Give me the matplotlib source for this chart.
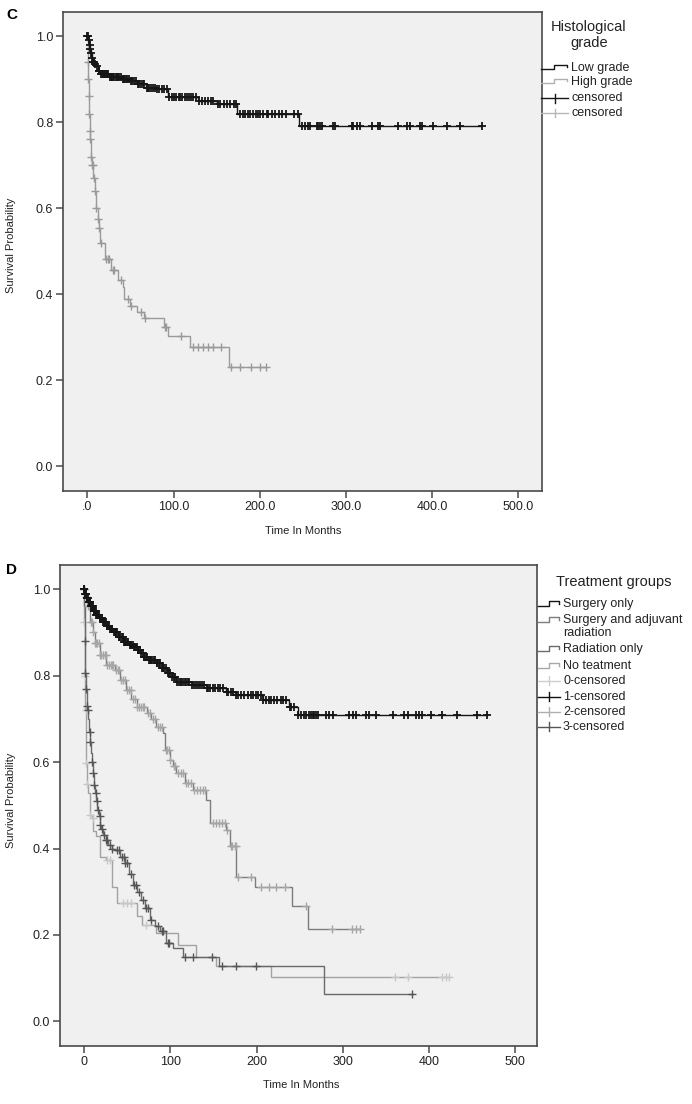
import numpy as np
import matplotlib
matplotlib.use('Agg')
import matplotlib.pyplot as plt
from matplotlib.lines import Line2D

plt.rcParams['font.family'] = ['Liberation Sans', 'DejaVu Sans']

W, H = 692, 1104

# ---------------- Panel C : Histological grade ----------------
grade_title = 'Histological\ngrade'
grade_names = ['Low grade', 'High grade']
grade_cens_names = ['censored', 'censored']

low_event_t = [1, 2, 3, 4, 5, 6, 8, 10, 12, 15, 25, 40, 50, 58, 68, 80, 93, 128, 150, 174, 245]
low_event_s = [0.99, 0.98, 0.97, 0.96, 0.95, 0.94, 0.935, 0.93, 0.92, 0.912, 0.905, 0.90, 0.895,
               0.888, 0.88, 0.876, 0.858, 0.85, 0.842, 0.82, 0.79]
low_cens_t = [0, 0.5, 1.5, 2.5, 3.5, 4.5, 5.5, 7, 7.5, 9, 11, 13, 14, 16, 17, 18, 19, 20, 22, 23, 24,
              26, 27, 28, 30, 31, 33, 34, 36, 37, 39, 41, 42, 43, 45, 46, 48, 51, 52, 54, 56, 59, 60,
              62, 64, 66, 69, 70, 72, 74, 76, 78, 81, 83, 86, 89, 92, 95, 98, 100, 103, 106, 108, 110,
              113, 116, 118, 120, 123, 126, 130, 133, 136, 140, 143, 146, 151, 154, 158, 162, 166, 170,
              172, 177, 180, 183, 186, 189, 192, 196, 198, 200, 204, 208, 210, 214, 218, 222, 226, 230,
              240, 244, 248.5, 252.3, 256.2, 258, 265.9, 267.8, 269.8, 271.7, 285.3, 287.2, 306.6,
              308.5, 312.4, 316.3, 329.9, 337.6, 339.5, 360.8, 370.6, 374.4, 386, 388, 401.5, 417,
              432.6, 457.8]

high_event_t = [0.3, 0.6, 1.0, 1.5, 2.0, 2.5, 3.0, 4.0, 5.0, 7.0, 9.0, 10.0, 12.0, 13.6, 15.0, 20.0,
                27.0, 35.0, 41.0, 43.0, 50.0, 58.0, 66.0, 89.0, 93.0, 119.0, 164.0]
high_event_s = [0.97, 0.94, 0.90, 0.86, 0.82, 0.78, 0.76, 0.72, 0.70, 0.67, 0.64, 0.60, 0.575, 0.555,
                0.52, 0.483, 0.456, 0.433, 0.417, 0.39, 0.374, 0.36, 0.345, 0.324, 0.302, 0.278, 0.231]
high_cens_t = [0.7, 1.1, 1.6, 2.1, 2.6, 3.1, 4.3, 5.1, 6.0, 7.5, 9.2, 10.5, 12.2, 14.0, 16.0, 22.0,
               24.0, 25.6, 30.0, 31.4, 39.0, 47.0, 50.8, 62.4, 66.3, 89.5, 91.5, 109.0, 122.5, 128.0,
               134.0, 140.0, 145.7, 155.4, 167.0, 176.7, 190.0, 200.0, 207.8]

c_xticks = [0, 100, 200, 300, 400, 500]
c_xticklabels = ['.0', '100.0', '200.0', '300.0', '400.0', '500.0']

# ---------------- Panel D : Treatment groups ----------------
treat_title = 'Treatment groups'
treat_names = ['Surgery only', 'Surgery and adjuvant\nradiation', 'Radiation only', 'No teatment']
treat_cens_names = ['0-censored', '1-censored', '2-censored', '3-censored']

so_event_t = [1, 3, 5, 8, 11, 14, 18, 22, 26, 30, 34, 40, 46, 52, 58, 62, 66, 69, 75, 84, 90, 96,
              102, 107, 125, 142, 165, 176, 207, 238, 248]
so_event_s = [0.99, 0.98, 0.97, 0.96, 0.95, 0.94, 0.933, 0.925, 0.915, 0.907, 0.90, 0.89, 0.878,
              0.872, 0.866, 0.86, 0.852, 0.844, 0.837, 0.829, 0.818, 0.806, 0.796, 0.786, 0.778,
              0.771, 0.763, 0.755, 0.744, 0.728, 0.709]
so_cens_t = [0, 0.5, 1.5, 2, 2.5, 3.5, 4, 4.5, 5.5, 6, 6.5, 7, 8.5, 9, 9.5, 10, 11.5, 12, 13, 13.5,
             14.5, 15, 16, 17, 18.5, 19, 20, 21, 22.5, 23, 24, 25, 26.5, 27, 28, 29, 30.5, 31, 32, 33,
             35, 36, 37, 38, 40.5, 41, 42, 44, 45, 46.5, 47, 48, 50, 51, 53, 54, 55, 57, 58.5, 59, 61,
             62.5, 63, 65, 66.5, 68, 69.5, 70, 72, 73, 75.5, 76, 78, 79, 81, 82, 84.5, 85, 87, 88,
             90.5, 92, 93, 95, 97, 99, 100, 102.5, 104, 106, 108, 110, 112, 113, 115, 117, 118, 120,
             122, 125.5, 127, 130, 132, 134, 137, 139, 142.5, 144, 146, 149, 152, 155, 158, 161,
             165.5, 167, 170, 173, 176.5, 179, 182, 186, 190, 193, 196, 199, 202, 205, 207.5, 211,
             214, 217, 220, 224, 228, 231, 234, 238.5, 240, 243, 248.5, 251.6, 255.5, 257.4, 261.3,
             263.2, 265.1, 267, 269, 270.9, 280.5, 284.4, 288.2, 307.5, 311.3, 315.2, 326.8, 330.6,
             338.4, 357.6, 371, 375, 384.6, 388.4, 392.3, 401.9, 415.4, 432.7, 455.8, 467.4]

sr_event_t = [1, 4, 7, 10, 12.7, 18.5, 26, 36, 41.6, 49, 55, 61, 72.5, 78, 84, 91.7, 93.6, 99.4,
              103, 107, 116.8, 126.4, 141.8, 145.7, 165, 168.8, 176.5, 197.7, 240.8, 260]
sr_event_s = [0.983, 0.96, 0.925, 0.90, 0.875, 0.848, 0.825, 0.813, 0.79, 0.767, 0.745, 0.728,
              0.713, 0.70, 0.682, 0.667, 0.628, 0.605, 0.59, 0.574, 0.551, 0.536, 0.513, 0.459,
              0.443, 0.405, 0.335, 0.312, 0.267, 0.214]
sr_cens_t = [2, 3, 5, 6, 8, 9, 11, 13, 14, 15, 17, 19, 20, 22, 24, 25, 27, 29, 31, 33, 34, 37, 39,
             40, 43, 45, 47, 50, 52, 54, 57, 59, 62, 64, 66, 68, 70, 74, 76, 80, 82, 86, 88, 90, 95,
             96, 98, 100, 104, 106, 109, 112, 115, 118, 121, 124, 128, 131, 135, 138, 140, 150, 153,
             156, 160, 163, 166, 170, 172, 175, 176, 178, 193, 204.6, 214, 222, 233, 257, 287.5,
             310.6, 315.3, 320]

ro_event_t = [0.3, 0.6, 0.9, 1.2, 2, 3, 4, 5, 6, 7, 8, 8.9, 10, 11.6, 12.7, 14, 15.4, 17, 18.5, 20,
              22.4, 25, 28, 32, 36, 42, 47, 52, 57, 62, 66, 70.5, 76, 82, 88, 95.6, 103, 115, 157, 278]
ro_event_s = [0.96, 0.92, 0.88, 0.807, 0.77, 0.73, 0.72, 0.70, 0.67, 0.646, 0.62, 0.601, 0.574,
              0.547, 0.528, 0.51, 0.49, 0.475, 0.455, 0.445, 0.432, 0.42, 0.409, 0.40, 0.397, 0.38,
              0.366, 0.34, 0.316, 0.30, 0.28, 0.262, 0.235, 0.22, 0.208, 0.181, 0.17, 0.15, 0.127,
              0.063]
ro_cens_t = [0.1, 1.0, 1.5, 2.5, 3.5, 4.5, 6.5, 7.5, 9.5, 10.5, 12, 13.5, 15, 16, 18, 19, 21, 23, 26,
             27, 30, 33, 38, 40, 44, 46, 48, 50, 55, 58, 60, 64, 68, 72, 74, 78, 86, 90, 92, 97, 99,
             117, 126.5, 148, 160, 176.5, 199.6, 380]

nt_event_t = [0.2, 0.4, 0.6, 0.8, 1.0, 1.2, 1.5, 2.0, 2.3, 3.0, 4.0, 5.0, 7.0, 9.0, 11.0, 14.0,
              18.5, 26.0, 32.0, 37.8, 61.0, 66.7, 84.0, 109.0, 130.0, 153.0, 217.0]
nt_event_s = [0.97, 0.925, 0.89, 0.852, 0.80, 0.76, 0.72, 0.66, 0.597, 0.57, 0.55, 0.528, 0.478,
              0.47, 0.44, 0.43, 0.38, 0.374, 0.312, 0.274, 0.243, 0.224, 0.204, 0.177, 0.15, 0.127,
              0.103]
nt_cens_t = [0.0, 0.5, 1.1, 1.8, 2.5, 4.0, 7.5, 10.8, 27.0, 30.0, 45.0, 50.0, 55.0, 72.4, 360.0,
             375.0, 415.4, 420.0, 423.0]

d_xticks = [0, 100, 200, 300, 400, 500]
d_xticklabels = ['0', '100', '200', '300', '400', '500']

yticks = [0.0, 0.2, 0.4, 0.6, 0.8, 1.0]
yticklabels = ['0.0', '0.2', '0.4', '0.6', '0.8', '1.0']

# ---------------- helpers ----------------
fig = plt.figure(figsize=(W / 100, H / 100), dpi=100)
fig.patch.set_facecolor('white')


def px_axes(x0, y0, x1, y1):
    return fig.add_axes([x0 / W, 1 - y1 / H, (x1 - x0) / W, (y1 - y0) / H])


def km_curve(ax, ev_t, ev_s, cens_t, line_color, mark_color, lw=1.0, mew=1.0, ms=5.6):
    cens_t = np.asarray(cens_t, float)
    end_t = max(cens_t.max(), ev_t[-1])
    t = np.concatenate([[0.0], ev_t, [end_t]])
    s = np.concatenate([[1.0], ev_s, [ev_s[-1]]])
    ax.step(t, s, where='post', color=line_color, lw=lw, solid_joinstyle='miter')
    idx = np.clip(np.searchsorted(t, cens_t, side='right') - 1, 0, len(s) - 1)
    ax.plot(cens_t, s[idx], ls='none', marker='+', ms=ms, mew=mew, color=mark_color)


def style_ax(ax, xlim, xticks, xlabels):
    ax.set_facecolor('#f0f0f0')
    for sp in ax.spines.values():
        sp.set_color('#4a4a4a')
        sp.set_linewidth(1.2)
    ax.set_xlim(*xlim)
    ax.set_ylim(-0.057, 1.056)
    ax.set_xticks(xticks)
    ax.set_xticklabels(xlabels)
    ax.set_yticks(yticks)
    ax.set_yticklabels(yticklabels)
    ax.tick_params(direction='out', length=5, width=1.1, color='#4a4a4a',
                   labelsize=9, labelcolor='#222222', pad=2)
    ax.tick_params(top=False, right=False)


def fline(xs, ys, **kw):
    fig.add_artist(Line2D([x / W for x in xs], [1 - y / H for y in ys],
                          transform=fig.transFigure, **kw))


def ftext(x, y, s, **kw):
    fig.text(x / W, 1 - y / H, s, **kw)


def step_glyph(x0, y, wid, color):
    a = x0 + wid * 0.5
    b = x0 + wid
    fline([x0, a, a, b, b], [y + 1.5, y + 1.5, y - 3, y - 3, y - 0.5], color=color, lw=1.0)


def cens_glyph(x0, y, wid, color):
    fline([x0, x0 + wid], [y, y], color=color, lw=1.0)
    fline([x0 + wid / 2, x0 + wid / 2], [y - 4.5, y + 4.5], color=color, lw=1.0)


# ---------------- Panel C ----------------
axc = px_axes(63, 12, 542, 491)
style_ax(axc, (-28.3, 527.5), c_xticks, c_xticklabels)
c_line_colors = ['#151515', '#9a9a9a']
c_mark_colors = ['#151515', '#9a9a9a']
km_curve(axc, high_event_t, high_event_s, high_cens_t, c_line_colors[1], c_mark_colors[1])
km_curve(axc, low_event_t, low_event_s, low_cens_t, c_line_colors[0], c_mark_colors[0], mew=1.3)

ftext(12, 15, 'C', fontsize=11, fontweight='bold', ha='center', va='center')
ftext(11, 245, 'Survival Probability', fontsize=8, rotation=90, ha='center', va='center',
      color='#222222')
ftext(303, 531, 'Time In Months', fontsize=8, ha='center', va='center', color='#222222')

ftext(589, 35, grade_title, fontsize=10.5, ha='center', va='center', multialignment='center',
      linespacing=1.1, color='#222222')
c_leg_y = [67.7, 81.5, 98, 113]
c_leg_colors = ['#151515', '#b0b0b0', '#151515', '#b8b8b8']
for i, name in enumerate(grade_names):
    step_glyph(541, c_leg_y[i], 26, c_leg_colors[i])
    ftext(571, c_leg_y[i], name, fontsize=9, va='center', ha='left', color='#222222')
for j, name in enumerate(grade_cens_names):
    k = 2 + j
    cens_glyph(541, c_leg_y[k], 27, c_leg_colors[k])
    ftext(571, c_leg_y[k], name, fontsize=9, va='center', ha='left', color='#222222')

# ---------------- Panel D ----------------
axd = px_axes(60, 565, 537, 1046)
style_ax(axd, (-27.8, 525), d_xticks, d_xticklabels)
d_line_colors = ['#151515', '#7c7c7c', '#6a6a6a', '#a2a2a2']
d_mark_colors = ['#151515', '#a6a6a6', '#555555', '#c8c8c8']
km_curve(axd, nt_event_t, nt_event_s, nt_cens_t, d_line_colors[3], d_mark_colors[3])
km_curve(axd, ro_event_t, ro_event_s, ro_cens_t, d_line_colors[2], d_mark_colors[2])
km_curve(axd, sr_event_t, sr_event_s, sr_cens_t, d_line_colors[1], d_mark_colors[1])
km_curve(axd, so_event_t, so_event_s, so_cens_t, d_line_colors[0], d_mark_colors[0], mew=1.3)

ftext(12, 570, 'D', fontsize=11, fontweight='bold', ha='center', va='center')
ftext(11, 800, 'Survival Probability', fontsize=8, rotation=90, ha='center', va='center',
      color='#222222')
ftext(301, 1085, 'Time In Months', fontsize=8, ha='center', va='center', color='#222222')

ftext(614, 582, treat_title, fontsize=10.5, ha='center', va='center', color='#222222')
d_leg_y = [604.3, 620, 649.3, 666]
d_leg_line_colors = ['#151515', '#7c7c7c', '#6a6a6a', '#a8a8a8']
for i, name in enumerate(treat_names):
    step_glyph(538, d_leg_y[i], 21, d_leg_line_colors[i])
    for li, part in enumerate(name.split('\n')):
        ftext(563, d_leg_y[i] + li * 12.7, part, fontsize=9, va='center', ha='left',
              color='#222222')
d_cens_y = [680.7, 696.7, 711.7, 726.7]
d_cens_colors = ['#cfcfcf', '#111111', '#b0b0b0', '#555555']
for j, name in enumerate(treat_cens_names):
    cens_glyph(538, d_cens_y[j], 22, d_cens_colors[j])
    ftext(563, d_cens_y[j], name, fontsize=9, va='center', ha='left', color='#222222')

fig.savefig('out.png', dpi=100, facecolor='white')
